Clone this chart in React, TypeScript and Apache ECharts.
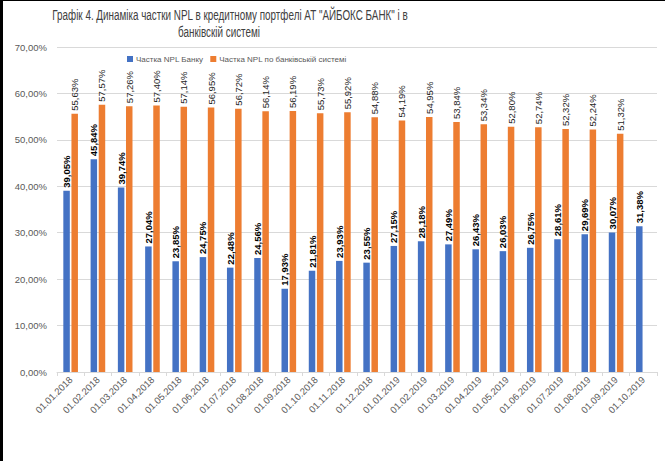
import React, { useEffect, useRef } from "react";
import * as echarts from "echarts";

const categories = [
  "01.01.2018", "01.02.2018", "01.03.2018", "01.04.2018", "01.05.2018", "01.06.2018",
  "01.07.2018", "01.08.2018", "01.09.2018", "01.10.2018", "01.11.2018", "01.12.2018",
  "01.01.2019", "01.02.2019", "01.03.2019", "01.04.2019", "01.05.2019", "01.06.2019",
  "01.07.2019", "01.08.2019", "01.09.2019", "01.10.2019",
];

const bankNPL = [
  39.05, 45.84, 39.74, 27.04, 23.85, 24.75, 22.48, 24.56, 17.93, 21.81, 23.93, 23.55,
  27.15, 28.18, 27.49, 26.43, 26.03, 26.75, 28.61, 29.69, 30.07, 31.38,
];

const systemNPL = [
  55.63, 57.57, 57.26, 57.4, 57.14, 56.95, 56.72, 56.14, 56.19, 55.73, 55.92, 54.88,
  54.19, 54.95, 53.84, 53.34, 52.8, 52.74, 52.32, 52.24, 51.32, null,
];

const seriesNames = ["Частка NPL Банку", "Частка NPL по банківській системі"];
const titleLines = [
  'Графік 4. Динаміка частки NPL в кредитному портфелі АТ "АЙБОКС БАНК" і в',
  "банківскій системі",
];

const fmt = (v: number) => v.toFixed(2).replace(".", ",") + "%";
const FONT = "'Liberation Sans', Arial, sans-serif";
const TITLE_SIZE = 14.5;

function titleScale(): number {
  try {
    const c = document.createElement("canvas").getContext("2d");
    if (!c) return 0.8;
    c.font = `${TITLE_SIZE}px 'Liberation Sans'`;
    const w = c.measureText(titleLines[0]).width;
    return w > 0 ? 356 / w : 0.8;
  } catch (e) {
    return 0.8;
  }
}

export default function App() {
  const ref = useRef<HTMLDivElement>(null);
  useEffect(() => {
    if (!ref.current) return;
    const chart = echarts.init(ref.current, null, { renderer: "svg" });
    const sx = titleScale();
    chart.setOption({
      animation: false,
      backgroundColor: "#ffffff",
      legend: {
        left: 122,
        top: 50,
        itemWidth: 6,
        itemHeight: 6,
        itemGap: 7,
        icon: "rect",
        textStyle: { fontFamily: FONT, fontSize: 8, color: "#595959", padding: [0, 0, 0, -2] },
        data: seriesNames,
      },
      grid: { left: 57, right: 8, top: 47, bottom: 89, containLabel: false },
      xAxis: {
        type: "category",
        data: categories,
        axisLine: { lineStyle: { color: "#d9d9d9" } },
        axisTick: { show: true, length: 4, lineStyle: { color: "#d9d9d9" } },
        axisLabel: {
          rotate: 45,
          interval: 0,
          fontFamily: FONT,
          fontSize: 9.5,
          color: "#595959",
          margin: 6,
        },
      },
      yAxis: {
        type: "value",
        min: 0,
        max: 70,
        interval: 10,
        axisLine: { show: false },
        axisTick: { show: false },
        splitLine: { lineStyle: { color: "#d9d9d9" } },
        axisLabel: {
          formatter: (v: number) => fmt(v),
          fontFamily: FONT,
          fontSize: 9.5,
          color: "#595959",
          margin: 10,
        },
      },
      series: [
        {
          name: seriesNames[0],
          type: "bar",
          data: bankNPL,
          barWidth: 6.5,
          barGap: "25%",
          itemStyle: { color: "#4472c4" },
          label: {
            show: true,
            position: "top",
            rotate: 90,
            align: "left",
            verticalAlign: "middle",
            distance: 3,
            formatter: (p: any) => fmt(p.value),
            fontFamily: FONT,
            fontSize: 9.5,
            fontWeight: "bold",
            color: "#000000",
          },
        },
        {
          name: seriesNames[1],
          type: "bar",
          data: systemNPL,
          barWidth: 6.5,
          itemStyle: { color: "#ed7d31" },
          label: {
            show: true,
            position: "top",
            rotate: 90,
            align: "left",
            verticalAlign: "middle",
            distance: 3,
            formatter: (p: any) => (p.value == null ? "" : fmt(p.value)),
            fontFamily: FONT,
            fontSize: 9.5,
            color: "#262626",
          },
        },
      ],
      graphic: [
        {
          type: "text",
          x: 230,
          y: 8,
          scaleX: sx,
          style: {
            text: titleLines[0],
            fontFamily: FONT,
            fontSize: TITLE_SIZE,
            fill: "#404040",
            textAlign: "center",
            textVerticalAlign: "top",
          },
        },
        {
          type: "text",
          x: 219,
          y: 25,
          scaleX: sx,
          style: {
            text: titleLines[1],
            fontFamily: FONT,
            fontSize: TITLE_SIZE,
            fill: "#404040",
            textAlign: "center",
            textVerticalAlign: "top",
          },
        },
        { type: "rect", left: 0, top: 0, shape: { width: 3, height: 461 }, style: { fill: "#000" } },
        { type: "rect", left: 0, top: 0, shape: { width: 665, height: 1 }, style: { fill: "#000" } },
      ],
    });
    return () => chart.dispose();
  }, []);
  return (
    <div
      ref={ref}
      style={{ position: "fixed", left: 0, top: 0, width: 665, height: 461 }}
    />
  );
}
